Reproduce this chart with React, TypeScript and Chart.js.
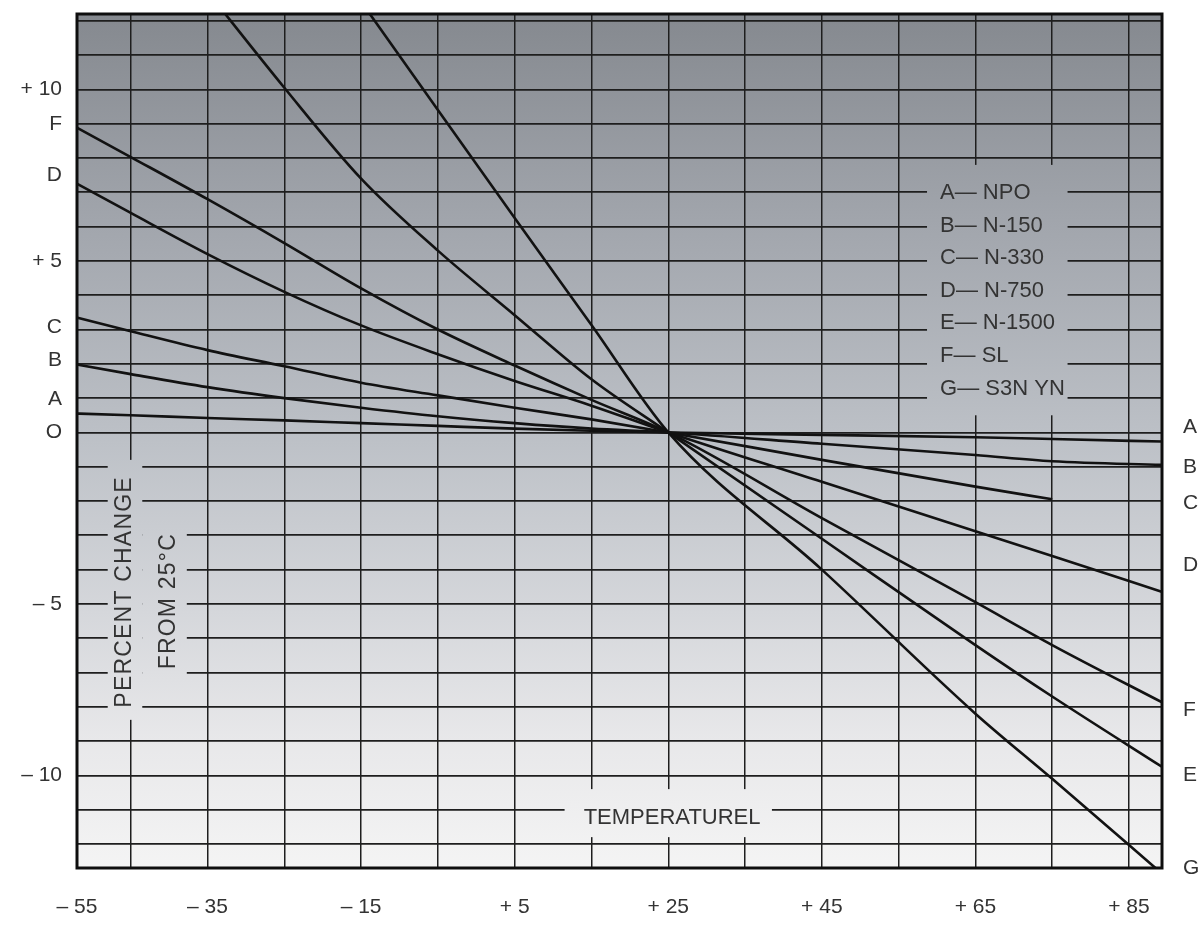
import React, { useEffect, useRef } from 'react';
import { Chart, registerables } from 'chart.js';

Chart.register(...registerables);

// ---- data ----
const temperatures = [-55, -45, -35, -25, -15, -5, 5, 15, 25, 45, 65, 75, 90];
const seriesA = [0.57, 0.5, 0.42, 0.35, 0.27, 0.19, 0.11, 0.05, 0, -0.07, -0.14, -0.19, -0.27];
const seriesB = [2.1, 1.7, 1.32, 1.0, 0.72, 0.47, 0.27, 0.11, 0, -0.33, -0.66, -0.84, -0.95];
const seriesC = [3.52, 2.95, 2.4, 1.93, 1.45, 1.08, 0.72, 0.38, 0, -0.8, -1.58, -1.95, null];
const seriesD = [7.62, 6.4, 5.2, 4.1, 3.12, 2.28, 1.5, 0.78, 0, -1.44, -2.88, -3.6, -4.7];
const seriesE = [null, null, 12.85, 10.05, 7.4, 5.3, 3.42, 1.55, 0, -3.1, -6.2, -7.7, -9.85];
const seriesF = [9.25, 8.03, 6.8, 5.52, 4.2, 3.0, 1.95, 0.95, 0, -2.5, -4.95, -6.2, -7.95];
const seriesG = [null, null, null, null, 12.56, 9.4, 6.25, 3.13, 0, -4.0, -8.2, -10.1, -13.0];

const seriesLetters = ['A', 'B', 'C', 'D', 'E', 'F', 'G'];
const seriesNames = ['NPO', 'N-150', 'N-330', 'N-750', 'N-1500', 'SL', 'S3N YN'];

const xTickValues = [-55, -35, -15, 5, 25, 45, 65, 85];
const xTickLabels = ['– 55', '– 35', '– 15', '+ 5', '+ 25', '+ 45', '+ 65', '+ 85'];
const xGridValues = [-45, -35, -25, -15, -5, 5, 15, 25, 35, 45, 55, 65, 75, 85];
const yGridValues = [-12, -11, -10, -9, -8, -7, -6, -5, -4, -3, -2, -1, 0, 1, 2, 3, 4, 5, 6, 7, 8, 9, 10, 11, 12];
const leftTickValues = [10, 9, 7.5, 5, 3.08, 2.1, 0.96, 0, -5, -10];
const leftTickLabels = ['+ 10', 'F', 'D', '+ 5', 'C', 'B', 'A', 'O', '– 5', '– 10'];
const rightTickValues = [0.15, -1.0, -2.07, -3.87, -8.1, -10.0, -12.7];
const rightTickLabels = ['A', 'B', 'C', 'D', 'F', 'E', 'G'];

const xTitle = 'TEMPERATUREL';
const yTitle1 = 'PERCENT CHANGE';
const yTitle2 = 'FROM 25°C';

const X_MIN = -52;
const X_MAX = 89.3;
const Y_MIN = -12.7;
const Y_MAX = 12.2;

const FONT_FAMILY = '"Liberation Sans", Arial, Helvetica, sans-serif';
const TEXT_COLOR = '#333333';
const GRID_COLOR = '#1e1e1e';
const LINE_COLOR = '#121212';

const allSeries = [seriesA, seriesB, seriesC, seriesD, seriesE, seriesF, seriesG];

function makeGradient(ctx: CanvasRenderingContext2D, top: number, bottom: number) {
  const g = ctx.createLinearGradient(0, top, 0, bottom);
  g.addColorStop(0, '#85898f');
  g.addColorStop(0.25, '#a2a6ad');
  g.addColorStop(0.5, '#bdc1c7');
  g.addColorStop(0.7, '#d5d7db');
  g.addColorStop(0.85, '#e8e8ea');
  g.addColorStop(1, '#f4f4f4');
  return g;
}

const backgroundPlugin = {
  id: 'paperBackground',
  beforeDraw(chart: any) {
    const { ctx, chartArea } = chart;
    if (!chartArea) return;
    const { left, top, right, bottom } = chartArea;
    ctx.save();
    ctx.fillStyle = makeGradient(ctx, top, bottom);
    ctx.fillRect(left, top, right - left, bottom - top);
    ctx.restore();
  },
};

const annotationPlugin = {
  id: 'inPlotText',
  beforeDatasetsDraw(chart: any) {
    const { ctx, chartArea, scales } = chart;
    const xs = scales.x;
    const ys = scales.y;
    const px = (v: number) => xs.getPixelForValue(v);
    const py = (v: number) => ys.getPixelForValue(v);
    const grad = makeGradient(ctx, chartArea.top, chartArea.bottom);

    const box = (x0: number, x1: number, y0: number, y1: number) => {
      const a = px(x0), b = px(x1), c = py(y0), d = py(y1);
      ctx.fillRect(Math.min(a, b), Math.min(c, d), Math.abs(b - a), Math.abs(d - c));
    };

    ctx.save();
    ctx.fillStyle = grad;
    box(58.7, 77.0, 7.8, 0.5);
    box(11.5, 38.5, -10.4, -11.8);
    box(-48.0, -43.5, -0.8, -8.38);
    box(-43.5, -37.7, -2.55, -7.5);

    ctx.fillStyle = TEXT_COLOR;
    ctx.font = `22px ${FONT_FAMILY}`;
    ctx.textBaseline = 'middle';

    ctx.textAlign = 'left';
    seriesLetters.forEach((letter, i) => {
      ctx.fillText(`${letter}— ${seriesNames[i]}`, px(60.4), py(6.98 - i * 0.95));
    });

    ctx.textAlign = 'center';
    ctx.fillText(xTitle, px(25.5), py(-11.24));

    const rot = (text: string, x: number, y: number) => {
      ctx.save();
      ctx.translate(px(x), py(y));
      ctx.rotate(-Math.PI / 2);
      ctx.textAlign = 'center';
      ctx.textBaseline = 'middle';
      try {
        (ctx as any).letterSpacing = '1.2px';
      } catch (e) {
        /* ignore */
      }
      ctx.fillText(text, 0, 0);
      ctx.restore();
    };
    ctx.font = `23px ${FONT_FAMILY}`;
    rot(yTitle1, -45.8, -4.65);
    rot(yTitle2, -40.0, -4.92);
    ctx.restore();
  },
};

const framePlugin = {
  id: 'frame',
  afterDatasetsDraw(chart: any) {
    const { ctx, chartArea } = chart;
    const { left, top, right, bottom } = chartArea;
    ctx.save();
    ctx.strokeStyle = '#0e0e0e';
    ctx.lineWidth = 3;
    ctx.strokeRect(left, top, right - left, bottom - top);
    ctx.restore();
  },
};

const noPad = (s: any) => {
  s.paddingTop = 0;
  s.paddingBottom = 0;
  s.paddingLeft = 0;
  s.paddingRight = 0;
};

export default function App() {
  const canvasRef = useRef<HTMLCanvasElement | null>(null);

  useEffect(() => {
    if (!canvasRef.current) return;
    const datasets = allSeries.map((series, i) => ({
      label: `${seriesLetters[i]} — ${seriesNames[i]}`,
      data: temperatures.map((t, j) => ({ x: t, y: series[j] })),
      borderColor: LINE_COLOR,
      borderWidth: 2.6,
      pointRadius: 0,
      cubicInterpolationMode: 'monotone',
      fill: false,
      spanGaps: false,
    }));

    const chart = new Chart(canvasRef.current, {
      type: 'line',
      data: { datasets },
      options: {
        animation: false,
        responsive: true,
        maintainAspectRatio: false,
        layout: { padding: { top: 14, left: 0, right: 0, bottom: 0 } },
        plugins: {
          legend: { display: false },
          tooltip: { enabled: false },
        },
        scales: {
          x: {
            type: 'linear',
            position: 'bottom',
            min: X_MIN,
            max: X_MAX,
            afterBuildTicks: (s: any) => {
              s.ticks = xGridValues.map((v) => ({ value: v }));
            },
            afterFit: (s: any) => {
              s.height = 0;
              noPad(s);
            },
            ticks: { display: false, autoSkip: false },
            grid: { color: GRID_COLOR, lineWidth: 1.5, drawTicks: false },
            border: { display: false },
          },
          xLabels: {
            type: 'linear',
            position: 'bottom',
            min: X_MIN,
            max: X_MAX,
            afterBuildTicks: (s: any) => {
              s.ticks = xTickValues.map((v) => ({ value: Math.max(v, X_MIN) }));
            },
            afterFit: (s: any) => {
              s.height = 58;
              noPad(s);
            },
            ticks: {
              autoSkip: false,
              maxRotation: 0,
              padding: 27,
              color: TEXT_COLOR,
              font: { family: FONT_FAMILY, size: 21 },
              callback: (_v: any, i: number) => xTickLabels[i],
            },
            grid: { display: false, drawTicks: false },
            border: { display: false },
          },
          y: {
            type: 'linear',
            position: 'left',
            min: Y_MIN,
            max: Y_MAX,
            afterBuildTicks: (s: any) => {
              s.ticks = yGridValues.map((v) => ({ value: v }));
            },
            afterFit: (s: any) => {
              s.width = 0;
              noPad(s);
            },
            ticks: { display: false, autoSkip: false },
            grid: { color: GRID_COLOR, lineWidth: 1.7, drawTicks: false },
            border: { display: false },
          },
          yLabels: {
            type: 'linear',
            position: 'left',
            min: Y_MIN,
            max: Y_MAX,
            afterBuildTicks: (s: any) => {
              s.ticks = leftTickValues.map((v) => ({ value: v }));
            },
            afterFit: (s: any) => {
              s.width = 77;
              noPad(s);
            },
            ticks: {
              autoSkip: false,
              padding: 15,
              color: TEXT_COLOR,
              font: { family: FONT_FAMILY, size: 21 },
              callback: (_v: any, i: number) => leftTickLabels[i],
            },
            grid: { display: false, drawTicks: false },
            border: { display: false },
          },
          yRight: {
            type: 'linear',
            position: 'right',
            min: Y_MIN,
            max: Y_MAX,
            afterBuildTicks: (s: any) => {
              s.ticks = rightTickValues.map((v) => ({ value: v }));
            },
            afterFit: (s: any) => {
              s.width = 42;
              noPad(s);
            },
            ticks: {
              autoSkip: false,
              padding: 21,
              color: TEXT_COLOR,
              font: { family: FONT_FAMILY, size: 21 },
              callback: (_v: any, i: number) => rightTickLabels[i],
            },
            grid: { display: false, drawTicks: false },
            border: { display: false },
          },
        },
      } as any,
      plugins: [backgroundPlugin, annotationPlugin, framePlugin],
    });

    return () => chart.destroy();
  }, []);

  return (
    <div
      style={{
        position: 'absolute',
        left: 0,
        top: 0,
        width: 1204,
        height: 926,
        background: '#ffffff',
      }}
    >
      <canvas ref={canvasRef} />
    </div>
  );
}
